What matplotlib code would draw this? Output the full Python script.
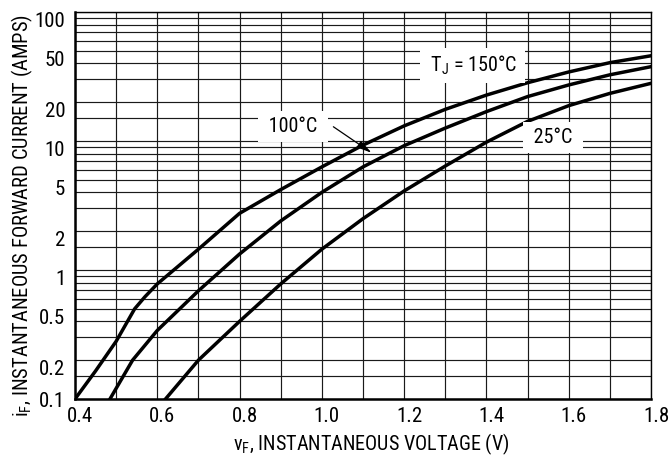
import matplotlib
matplotlib.use('Agg')
import matplotlib.pyplot as plt
import matplotlib.transforms as mtransforms
from matplotlib import font_manager

# the datasheet uses a condensed sans; take the narrowest one installed
fonts = [(f.name, f.stretch) for f in font_manager.fontManager.ttflist]
names = {n for n, s in fonts}
stretch = 'normal'
if 'Liberation Sans Narrow' in names:
    family, size = 'Liberation Sans Narrow', 14.5
elif 'Roboto Condensed' in names:
    family, size = 'Roboto Condensed', 14.5
elif 'DejaVu Sans Condensed' in names:
    family, size = 'DejaVu Sans Condensed', 13.0
elif ('DejaVu Sans', 'condensed') in fonts:
    family, size, stretch = 'DejaVu Sans', 13.0, 'condensed'
else:
    family, size = 'Liberation Sans', 13.0
plt.rcParams['font.family'] = [family, 'DejaVu Sans']
plt.rcParams['font.stretch'] = stretch

# forward voltage (V) vs forward current (A)
v_150 = [0.40, 0.45, 0.50, 0.545, 0.57, 0.60, 0.70, 0.80, 0.90, 1.00, 1.10,
         1.20, 1.30, 1.40, 1.50, 1.60, 1.70, 1.80]
i_150 = [0.10, 0.165, 0.28, 0.50, 0.62, 0.78, 1.45, 2.75, 4.2, 6.3, 9.3,
         13.1, 17.6, 22.7, 28.3, 34.3, 40.5, 45.8]

v_100 = [0.485, 0.54, 0.60, 0.70, 0.80, 0.90, 1.00, 1.10, 1.20, 1.30, 1.40,
         1.50, 1.60, 1.70, 1.80]
i_100 = [0.10, 0.20, 0.34, 0.69, 1.33, 2.4, 4.0, 6.3, 9.2, 12.6, 16.9,
         22.1, 27.2, 32.6, 37.7]

v_25 = [0.62, 0.70, 0.80, 0.90, 1.00, 1.10, 1.20, 1.30, 1.40, 1.50, 1.60,
        1.70, 1.80]
i_25 = [0.10, 0.20, 0.40, 0.78, 1.45, 2.5, 4.1, 6.4, 9.8, 14.2, 18.8,
        23.4, 28.0]

x_ticks = [0.4, 0.6, 0.8, 1.0, 1.2, 1.4, 1.6, 1.8]
x_labels = ['0.4', '0.6', '0.8', '1.0', '1.2', '1.4', '1.6', '1.8']
y_ticks = [0.1, 0.2, 0.5, 1, 2, 5, 10, 20, 50, 100]
y_labels = ['0.1', '0.2', '0.5', '1', '2', '5', '10', '20', '50', '100']

# unlabelled grid lines
x_minor = [0.5, 0.7, 0.9, 1.1, 1.3, 1.5, 1.7]
y_minor = [d * m for d in (0.1, 1, 10) for m in (1.5, 3, 4, 6, 7, 8, 9)]

fig = plt.figure(figsize=(6.69, 4.57), dpi=100)
ax = fig.add_axes([0.1121, 0.1269, 0.861, 0.8468])

for v, i in [(v_150, i_150), (v_100, i_100), (v_25, i_25)]:
    ax.plot(v, i, color='black', lw=2.5, solid_joinstyle='round', zorder=3)

ax.set_yscale('log')
ax.set_xlim(0.4, 1.8)
ax.set_ylim(0.1, 100)
ax.set_xticks(x_ticks, x_labels)
ax.set_xticks(x_minor, minor=True)
ax.set_yticks(y_ticks, y_labels)
ax.set_yticks(y_minor, minor=True)
ax.set_yticklabels([], minor=True)
ax.set_axisbelow(True)
ax.grid(which='both', color='#1a1a1a', lw=0.85)
ax.tick_params(which='both', length=0, labelsize=size + 0.5, colors='black')
ax.tick_params(axis='x', pad=6)
ax.tick_params(axis='y', pad=7)

for s in ['left', 'bottom']:
    ax.spines[s].set_linewidth(1.8)
for s in ['top', 'right']:
    ax.spines[s].set_linewidth(1.0)

shift = mtransforms.ScaledTranslation(0.05, 0, fig.dpi_scale_trans)
for lbl in ax.get_xticklabels():
    lbl.set_transform(lbl.get_transform() + shift)
for lbl, val in zip(ax.get_yticklabels(), y_ticks):
    if val != 0.1:
        lbl.set_va('top')

ax.set_xlabel(r'$\mathregular{v_F}$, INSTANTANEOUS VOLTAGE (V)',
              fontsize=size, ha='center', va='baseline')
ax.xaxis.set_label_coords(0.515, -0.132)
ax.set_ylabel(r'$\mathregular{i_F}$, INSTANTANEOUS FORWARD CURRENT (AMPS)',
              fontsize=size + 0.3, ha='center', va='baseline',
              rotation_mode='anchor')
ax.yaxis.set_label_coords(-0.0816, 0.4755)

box = dict(boxstyle='square,pad=0.3', fc='white', ec='none')
ax.text(1.366, 34.4, r' $\mathregular{T_J}$ = 150°C ', fontsize=size,
        ha='center', va='baseline', bbox=box, zorder=4)
ax.text(0.929, 11.7, ' 100°C ', fontsize=size, ha='center',
        va='baseline', bbox=box, zorder=4)
ax.text(1.561, 9.6, ' 25°C ', fontsize=size, ha='center',
        va='baseline', bbox=box, zorder=4)
ax.annotate('', xy=(1.121, 8.1), xytext=(1.028, 12.9),
            arrowprops=dict(arrowstyle='-|>,head_length=0.6,head_width=0.15',
                            lw=0.9, color='black', shrinkA=0, shrinkB=0,
                            mutation_scale=15), zorder=5)

fig.savefig('out.png', dpi=100)
